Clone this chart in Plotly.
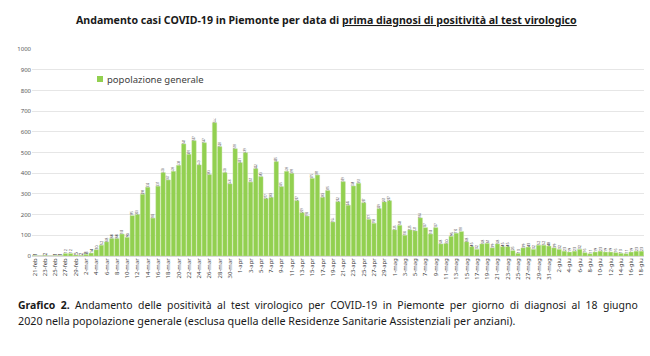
import datetime as dt
import plotly.graph_objects as go

# Daily new positives (popolazione generale), 21-feb .. 18-giu 2020
values = [
    1, 0, 2, 0, 1, 1, 12, 12, 5, 2,
    8, 14, 30, 52, 68, 84, 84, 106, 90, 195,
    200, 298, 332, 183, 337, 403, 367, 409, 438, 541,
    491, 557, 440, 547, 393, 644, 528, 403, 348, 518,
    451, 499, 357, 422, 383, 277, 283, 456, 335, 409,
    399, 267, 209, 193, 375, 391, 283, 316, 164, 262,
    359, 245, 338, 351, 257, 177, 158, 229, 261, 267,
    126, 148, 100, 126, 121, 184, 137, 106, 137, 58,
    60, 95, 110, 118, 68, 45, 32, 58, 61, 39,
    58, 45, 45, 26, 13, 39, 43, 32, 52, 52,
    48, 39, 32, 23, 19, 23, 32, 16, 11, 19,
    23, 19, 19, 16, 13, 11, 19, 23, 23,
]

mesi = {2: "feb", 3: "mar", 4: "apr", 5: "mag", 6: "giu"}
start = dt.date(2020, 2, 21)
dates = [start + dt.timedelta(days=i) for i in range(len(values))]
categories = [f"{d.day}-{mesi[d.month]}" for d in dates]
tick_labels = categories[::2]

series_name = "popolazione generale"
title_plain = "Andamento casi COVID-19 in Piemonte per data di "
title_under = "prima diagnosi di positività al test virologico"
caption_1_words = ["<b>Grafico", "2.</b>", "Andamento", "delle", "positività", "al", "test",
                   "virologico", "per", "COVID-19", "in", "Piemonte", "per", "giorno", "di",
                   "diagnosi", "al", "18", "giugno"]
caption_2 = ("2020 nella popolazione generale (esclusa quella delle Residenze Sanitarie "
             "Assistenziali per anziani).")

GREEN = "#92D050"
FONT = "Noto Sans"

W, H = 650, 356
L, R, T, B = 32, 6, 49, 100
PW, PH = W - L - R, H - T - B


def px_x(x):
    return (x - L) / PW


def px_y(y):
    return (H - B - y) / PH


fig = go.Figure()
fig.add_trace(go.Bar(
    x=categories,
    y=values,
    name=series_name,
    marker=dict(color=GREEN, line=dict(color="#C4E4A0", width=0.4)),
    text=[str(v) for v in values],
    textposition="auto",
    textangle=-90,
    insidetextanchor="end",
    textfont=dict(size=5, color="#3a3a3a", family=FONT),
    cliponaxis=False,
    showlegend=False,
))

fig.update_layout(
    width=W, height=H,
    margin=dict(l=L, r=R, t=T, b=B, autoexpand=False),
    paper_bgcolor="white", plot_bgcolor="white",
    bargap=0.14,
    font=dict(family=FONT, color="#404040"),
    xaxis=dict(
        type="category", automargin=False,
        tickmode="array", tickvals=tick_labels, ticktext=tick_labels,
        tickangle=-90, tickfont=dict(size=6, color="#404040"),
        showgrid=False, showline=False, ticks="",
    ),
    yaxis=dict(
        range=[0, 1000], tickmode="linear", dtick=100, automargin=False,
        tickfont=dict(size=6, color="#595959"),
        showgrid=True, gridcolor="#E6E6E6", gridwidth=1,
        zeroline=True, zerolinecolor="#D9D9D9", showline=False,
    ),
)

# legend (green key + label)
fig.add_shape(type="rect", xref="paper", yref="paper",
              x0=px_x(97), x1=px_x(103), y0=px_y(82), y1=px_y(76),
              fillcolor=GREEN, line=dict(width=0))
fig.add_annotation(
    xref="paper", yref="paper", x=px_x(105), y=px_y(79),
    xanchor="left", yanchor="middle", showarrow=False,
    text=series_name, font=dict(size=9.5, color="#404040", family=FONT),
)

fig.add_annotation(
    xref="paper", yref="paper", x=px_x(326), y=px_y(20),
    xanchor="center", yanchor="middle", showarrow=False,
    text=f"<b>{title_plain}<u>{title_under}</u></b>",
    font=dict(size=10.6, color="#1a1a1a", family=FONT),
)
# first caption line, justified by doubling the word spacing
fig.add_annotation(
    xref="paper", yref="paper", x=px_x(16), y=px_y(305),
    xanchor="left", yanchor="middle", showarrow=False, align="left",
    text="\u00a0\u00a0".join(caption_1_words),
    font=dict(size=10.45, color="#1a1a1a", family=FONT),
)
fig.add_annotation(
    xref="paper", yref="paper", x=px_x(16), y=px_y(321),
    xanchor="left", yanchor="middle", showarrow=False, align="left",
    text=caption_2, font=dict(size=10.75, color="#1a1a1a", family=FONT),
)

fig.write_html("out.html", config={"displayModeBar": False},
               post_script="document.body.style.margin='0';")
